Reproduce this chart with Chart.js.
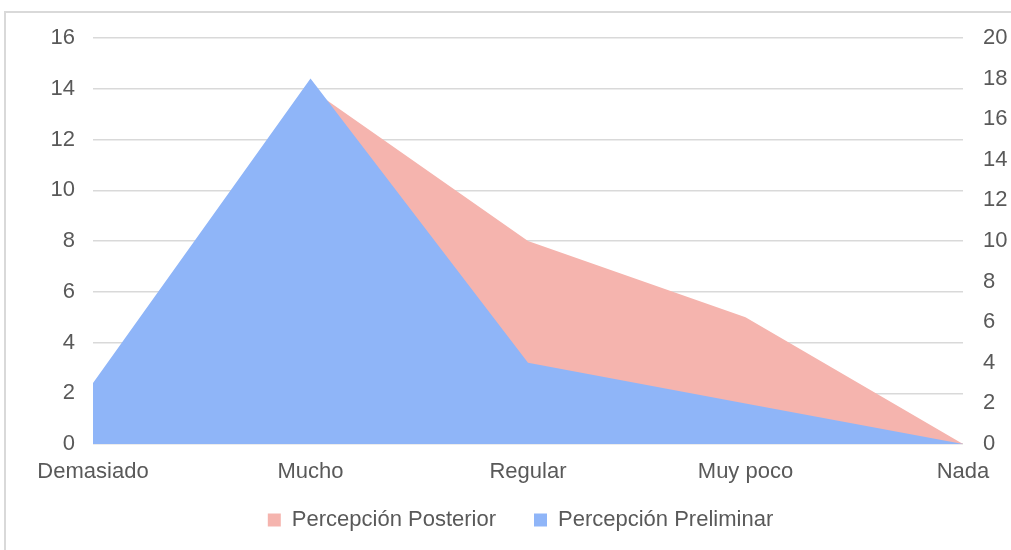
<!DOCTYPE html>
<html>
<head>
<meta charset="utf-8">
<script src="https://cdn.jsdelivr.net/npm/chart.js@4.4.1/dist/chart.umd.min.js"></script>
<style>
  html, body { margin: 0; padding: 0; background: #fff; overflow: hidden; }
  #marco { position: absolute; left: 4px; top: 11px; width: 1100px; height: 600px;
           border-left: 2px solid #d9d9d9; border-top: 2px solid #d9d9d9; }
  #caja { position: absolute; left: 0; top: 0; width: 1011px; height: 541px; }
</style>
</head>
<body>
<div id="marco"></div>
<div id="caja"><canvas id="grafico"></canvas></div>
<script>
const categorias = ['Demasiado', 'Mucho', 'Regular', 'Muy poco', 'Nada'];
const posterior = [2, 14, 8, 5, 0];      // eje izquierdo (0-16)
const preliminar = [3, 18, 4, 2, 0];     // eje derecho (0-20)

const colorTexto = '#595959';
const fuente = { family: '"Liberation Sans", Arial, sans-serif', size: 22 };

// ajuste fino: las etiquetas del eje x no se recortan y la leyenda se corre un poco
const ajusteLayout = {
  id: 'ajusteLayout',
  afterLayout(chart) {
    chart.scales.x.bottom = chart.scales.x.top + 60;
    chart.legend.left += 15;
    chart.legend.right += 15;
  }
};

new Chart(document.getElementById('grafico'), {
  type: 'line',
  data: {
    labels: categorias,
    datasets: [
      {
        label: 'Percepción Posterior',
        data: posterior,
        yAxisID: 'y',
        backgroundColor: '#f5b4ae',
        borderColor: '#f5b4ae',
        borderWidth: 0,
        pointRadius: 0,
        fill: 'origin',
        tension: 0,
        order: 2
      },
      {
        label: 'Percepción Preliminar',
        data: preliminar,
        yAxisID: 'y1',
        backgroundColor: '#8fb5f8',
        borderColor: '#8fb5f8',
        borderWidth: 0,
        pointRadius: 0,
        fill: 'origin',
        tension: 0,
        order: 1
      }
    ]
  },
  plugins: [ajusteLayout],
  options: {
    responsive: true,
    maintainAspectRatio: false,
    animation: false,
    layout: { padding: { top: 38, bottom: 0, left: 0, right: 0 } },
    plugins: {
      tooltip: { enabled: false },
      legend: {
        position: 'bottom',
        labels: {
          color: colorTexto, font: fuente, boxWidth: 13, boxHeight: 13, padding: 38,
          sort: (a, b) => a.datasetIndex - b.datasetIndex
        }
      }
    },
    scales: {
      x: {
        offset: false,
        grid: { display: false },
        border: { display: false },
        ticks: { color: colorTexto, font: fuente, padding: 7, maxRotation: 0 },
        afterFit: s => { s.height = 27; }
      },
      y: {
        position: 'left',
        min: 0, max: 16,
        ticks: { stepSize: 2, color: colorTexto, font: fuente, padding: 18 },
        grid: { color: '#d9d9d9', lineWidth: 1.5, drawTicks: false },
        border: { display: false },
        afterFit: s => { s.width = 93; }
      },
      y1: {
        position: 'right',
        min: 0, max: 20,
        ticks: { stepSize: 2, color: colorTexto, font: fuente, padding: 12 },
        grid: { display: false },
        border: { display: false },
        afterFit: s => { s.width = 48; }
      }
    }
  }
});
</script>
</body>
</html>
